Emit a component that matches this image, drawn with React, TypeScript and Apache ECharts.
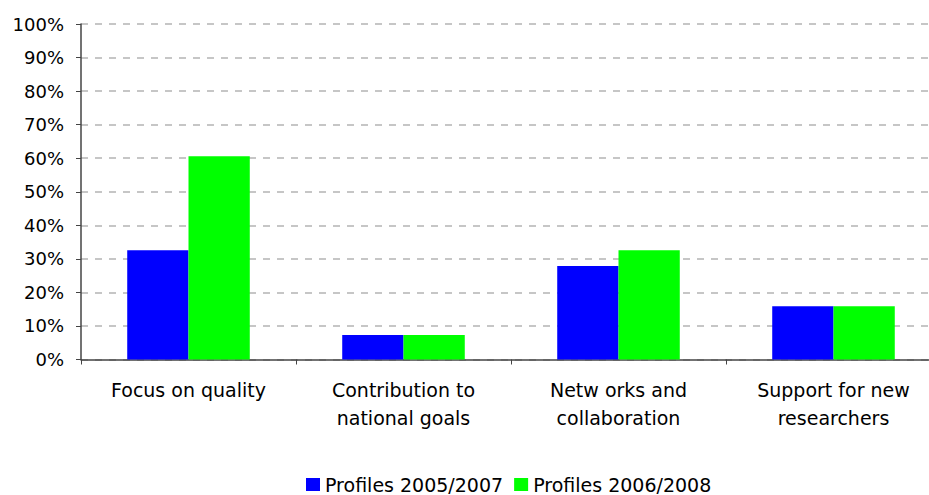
import React, { useEffect, useRef } from "react";
import * as echarts from "echarts";

const categories = [
  "Focus on quality",
  "Contribution to\nnational goals",
  "Netw orks and\ncollaboration",
  "Support for new\nresearchers",
];
const seriesNames = ["Profiles 2005/2007", "Profiles 2006/2008"];
const profiles2005 = [32.6, 7.3, 27.9, 15.9];
const profiles2006 = [60.6, 7.3, 32.6, 15.9];
const yTicks = [0, 10, 20, 30, 40, 50, 60, 70, 80, 90, 100];

const FONT = "DejaVu Sans";

export default function App() {
  const ref = useRef<HTMLDivElement>(null);

  useEffect(() => {
    document.body.style.margin = "0";
    if (!ref.current) return;
    const chart = echarts.init(ref.current, null, { renderer: "svg" });
    chart.setOption({
      animation: false,
      backgroundColor: "#ffffff",
      textStyle: { fontFamily: FONT },
      grid: { left: 81, top: 24, right: 0, bottom: 135.5, containLabel: false },
      legend: {
        data: seriesNames,
        left: 306,
        top: 475,
        padding: 0,
        icon: "rect",
        itemWidth: 14,
        itemHeight: 13,
        itemGap: 11,
        textStyle: { fontFamily: FONT, fontSize: 19, color: "#000" },
      },
      xAxis: {
        type: "category",
        data: categories,
        axisLine: { lineStyle: { color: "#444", width: 1.5 } },
        axisTick: { show: true, alignWithLabel: false, length: 5, lineStyle: { color: "#444" } },
        axisLabel: {
          color: "#000",
          fontFamily: FONT,
          fontSize: 19,
          margin: 16,
          lineHeight: 28,
          interval: 0,
        },
        splitLine: { show: false },
      },
      yAxis: {
        type: "value",
        min: yTicks[0],
        max: yTicks[yTicks.length - 1],
        interval: 10,
        axisLine: { show: true, lineStyle: { color: "#444", width: 1.5 } },
        axisTick: { show: true, length: 5, lineStyle: { color: "#444" } },
        axisLabel: {
          color: "#000",
          fontFamily: FONT,
          fontSize: 18,
          margin: 17,
          formatter: "{value}%",
        },
        splitLine: {
          show: true,
          lineStyle: { color: "#b4b4b4", width: 1.5, type: [7, 7] },
        },
      },
      series: [
        {
          name: seriesNames[0],
          type: "bar",
          data: profiles2005,
          itemStyle: { color: "#0000ff" },
          barGap: "0%",
          barCategoryGap: "43%",
        },
        {
          name: seriesNames[1],
          type: "bar",
          data: profiles2006,
          itemStyle: { color: "#00ff00" },
          barGap: "0%",
          barCategoryGap: "43%",
        },
      ],
    });
    return () => chart.dispose();
  }, []);

  // The plot runs slightly past the right edge of the visible frame.
  return (
    <div style={{ width: 929, height: 495, overflow: "hidden" }}>
      <div ref={ref} style={{ width: 941, height: 495 }} />
    </div>
  );
}
